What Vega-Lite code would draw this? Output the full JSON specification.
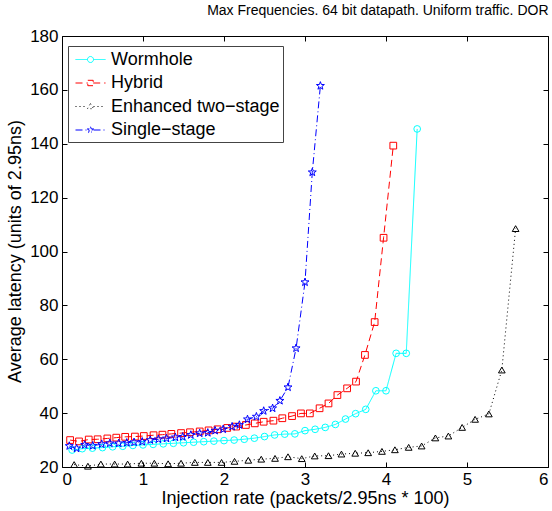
{
  "$schema": "https://vega.github.io/schema/vega-lite/v6.json",
  "width": 486,
  "height": 431,
  "autosize": {"type": "none"},
  "padding": {"left": 62, "top": 36, "right": 4, "bottom": 44},
  "background": "white",
  "config": {
    "font": "Liberation Sans",
    "view": {"stroke": "#000", "strokeWidth": 1},
    "axis": {"grid": false, "domain": false, "tickColor": "#000", "labelColor": "#000", "titleColor": "#000", "labelFont": "Liberation Sans", "titleFont": "Liberation Sans", "titleFontWeight": "normal", "labelFontSize": 17, "titleFontSize": 18, "tickSize": -5, "labelPadding": 9}
  },
  "title": {"text": "Max Frequencies. 64 bit datapath. Uniform traffic. DOR", "anchor": "end", "fontSize": 14, "fontWeight": "normal", "font": "Liberation Sans", "offset": 9, "color": "#000"},
  "datasets": {
    "d": [
      {"series": "Wormhole", "x": 0.125, "y": 26.3}, {"series": "Wormhole", "x": 0.25, "y": 26.8}, {"series": "Wormhole", "x": 0.375, "y": 27.0}, {"series": "Wormhole", "x": 0.5, "y": 27.2}, {"series": "Wormhole", "x": 0.625, "y": 27.5}, {"series": "Wormhole", "x": 0.75, "y": 27.7}, {"series": "Wormhole", "x": 0.875, "y": 28.0}, {"series": "Wormhole", "x": 1.0, "y": 28.2}, {"series": "Wormhole", "x": 1.125, "y": 28.4}, {"series": "Wormhole", "x": 1.25, "y": 28.6}, {"series": "Wormhole", "x": 1.375, "y": 28.8}, {"series": "Wormhole", "x": 1.5, "y": 29.0}, {"series": "Wormhole", "x": 1.625, "y": 29.2}, {"series": "Wormhole", "x": 1.75, "y": 29.4}, {"series": "Wormhole", "x": 1.875, "y": 29.6}, {"series": "Wormhole", "x": 2.0, "y": 29.8}, {"series": "Wormhole", "x": 2.125, "y": 30.0}, {"series": "Wormhole", "x": 2.25, "y": 30.3}, {"series": "Wormhole", "x": 2.375, "y": 30.7}, {"series": "Wormhole", "x": 2.5, "y": 31.3}, {"series": "Wormhole", "x": 2.625, "y": 31.9}, {"series": "Wormhole", "x": 2.75, "y": 32.2}, {"series": "Wormhole", "x": 2.875, "y": 32.3}, {"series": "Wormhole", "x": 3.0, "y": 33.5}, {"series": "Wormhole", "x": 3.125, "y": 34.0}, {"series": "Wormhole", "x": 3.25, "y": 34.7}, {"series": "Wormhole", "x": 3.375, "y": 35.8}, {"series": "Wormhole", "x": 3.5, "y": 37.8}, {"series": "Wormhole", "x": 3.625, "y": 39.8}, {"series": "Wormhole", "x": 3.75, "y": 41.4}, {"series": "Wormhole", "x": 3.875, "y": 48.3}, {"series": "Wormhole", "x": 4.0, "y": 48.3}, {"series": "Wormhole", "x": 4.125, "y": 62.2}, {"series": "Wormhole", "x": 4.25, "y": 62.2}, {"series": "Wormhole", "x": 4.385, "y": 145.5},
      {"series": "Hybrid", "x": 0.10, "y": 30.0}, {"series": "Hybrid", "x": 0.21, "y": 29.5}, {"series": "Hybrid", "x": 0.33, "y": 30.2}, {"series": "Hybrid", "x": 0.44, "y": 30.3}, {"series": "Hybrid", "x": 0.56, "y": 30.6}, {"series": "Hybrid", "x": 0.67, "y": 30.9}, {"series": "Hybrid", "x": 0.78, "y": 31.2}, {"series": "Hybrid", "x": 0.90, "y": 31.3}, {"series": "Hybrid", "x": 1.01, "y": 31.5}, {"series": "Hybrid", "x": 1.13, "y": 31.8}, {"series": "Hybrid", "x": 1.24, "y": 32.0}, {"series": "Hybrid", "x": 1.35, "y": 32.3}, {"series": "Hybrid", "x": 1.47, "y": 32.6}, {"series": "Hybrid", "x": 1.58, "y": 32.9}, {"series": "Hybrid", "x": 1.70, "y": 33.2}, {"series": "Hybrid", "x": 1.81, "y": 33.6}, {"series": "Hybrid", "x": 1.92, "y": 34.0}, {"series": "Hybrid", "x": 2.04, "y": 34.5}, {"series": "Hybrid", "x": 2.15, "y": 35.0}, {"series": "Hybrid", "x": 2.27, "y": 35.6}, {"series": "Hybrid", "x": 2.38, "y": 36.2}, {"series": "Hybrid", "x": 2.49, "y": 36.8}, {"series": "Hybrid", "x": 2.61, "y": 37.2}, {"series": "Hybrid", "x": 2.72, "y": 38.1}, {"series": "Hybrid", "x": 2.84, "y": 38.9}, {"series": "Hybrid", "x": 2.95, "y": 39.9}, {"series": "Hybrid", "x": 3.06, "y": 39.9}, {"series": "Hybrid", "x": 3.18, "y": 41.8}, {"series": "Hybrid", "x": 3.29, "y": 43.6}, {"series": "Hybrid", "x": 3.40, "y": 46.7}, {"series": "Hybrid", "x": 3.52, "y": 49.2}, {"series": "Hybrid", "x": 3.63, "y": 51.7}, {"series": "Hybrid", "x": 3.74, "y": 61.6}, {"series": "Hybrid", "x": 3.86, "y": 73.8}, {"series": "Hybrid", "x": 3.97, "y": 105.1}, {"series": "Hybrid", "x": 4.09, "y": 139.3},
      {"series": "Enhanced two−stage", "x": 0.15, "y": 20.9}, {"series": "Enhanced two−stage", "x": 0.32, "y": 20.3}, {"series": "Enhanced two−stage", "x": 0.48, "y": 21.1}, {"series": "Enhanced two−stage", "x": 0.65, "y": 21.1}, {"series": "Enhanced two−stage", "x": 0.81, "y": 21.1}, {"series": "Enhanced two−stage", "x": 0.98, "y": 21.4}, {"series": "Enhanced two−stage", "x": 1.14, "y": 21.4}, {"series": "Enhanced two−stage", "x": 1.31, "y": 21.2}, {"series": "Enhanced two−stage", "x": 1.47, "y": 21.4}, {"series": "Enhanced two−stage", "x": 1.64, "y": 21.7}, {"series": "Enhanced two−stage", "x": 1.80, "y": 21.7}, {"series": "Enhanced two−stage", "x": 1.97, "y": 21.7}, {"series": "Enhanced two−stage", "x": 2.13, "y": 22.1}, {"series": "Enhanced two−stage", "x": 2.30, "y": 22.5}, {"series": "Enhanced two−stage", "x": 2.46, "y": 22.9}, {"series": "Enhanced two−stage", "x": 2.63, "y": 23.2}, {"series": "Enhanced two−stage", "x": 2.79, "y": 23.8}, {"series": "Enhanced two−stage", "x": 2.96, "y": 23.1}, {"series": "Enhanced two−stage", "x": 3.12, "y": 24.1}, {"series": "Enhanced two−stage", "x": 3.29, "y": 24.2}, {"series": "Enhanced two−stage", "x": 3.45, "y": 24.8}, {"series": "Enhanced two−stage", "x": 3.62, "y": 25.1}, {"series": "Enhanced two−stage", "x": 3.78, "y": 25.3}, {"series": "Enhanced two−stage", "x": 3.95, "y": 25.8}, {"series": "Enhanced two−stage", "x": 4.11, "y": 26.4}, {"series": "Enhanced two−stage", "x": 4.28, "y": 27.3}, {"series": "Enhanced two−stage", "x": 4.44, "y": 27.8}, {"series": "Enhanced two−stage", "x": 4.61, "y": 30.8}, {"series": "Enhanced two−stage", "x": 4.77, "y": 31.5}, {"series": "Enhanced two−stage", "x": 4.94, "y": 34.7}, {"series": "Enhanced two−stage", "x": 5.10, "y": 37.7}, {"series": "Enhanced two−stage", "x": 5.27, "y": 39.7}, {"series": "Enhanced two−stage", "x": 5.43, "y": 56.0}, {"series": "Enhanced two−stage", "x": 5.60, "y": 108.5},
      {"series": "Single−stage", "x": 0.09, "y": 27.8}, {"series": "Single−stage", "x": 0.18, "y": 26.9}, {"series": "Single−stage", "x": 0.28, "y": 28.2}, {"series": "Single−stage", "x": 0.38, "y": 27.9}, {"series": "Single−stage", "x": 0.49, "y": 28.5}, {"series": "Single−stage", "x": 0.59, "y": 28.8}, {"series": "Single−stage", "x": 0.70, "y": 28.8}, {"series": "Single−stage", "x": 0.80, "y": 29.0}, {"series": "Single−stage", "x": 0.89, "y": 29.2}, {"series": "Single−stage", "x": 0.99, "y": 29.4}, {"series": "Single−stage", "x": 1.09, "y": 30.0}, {"series": "Single−stage", "x": 1.19, "y": 30.3}, {"series": "Single−stage", "x": 1.29, "y": 30.6}, {"series": "Single−stage", "x": 1.40, "y": 31.0}, {"series": "Single−stage", "x": 1.49, "y": 31.2}, {"series": "Single−stage", "x": 1.59, "y": 31.9}, {"series": "Single−stage", "x": 1.70, "y": 32.5}, {"series": "Single−stage", "x": 1.80, "y": 32.7}, {"series": "Single−stage", "x": 1.89, "y": 33.5}, {"series": "Single−stage", "x": 1.99, "y": 34.0}, {"series": "Single−stage", "x": 2.10, "y": 35.0}, {"series": "Single−stage", "x": 2.19, "y": 35.6}, {"series": "Single−stage", "x": 2.29, "y": 37.7}, {"series": "Single−stage", "x": 2.40, "y": 38.7}, {"series": "Single−stage", "x": 2.49, "y": 40.8}, {"series": "Single−stage", "x": 2.60, "y": 41.8}, {"series": "Single−stage", "x": 2.69, "y": 44.6}, {"series": "Single−stage", "x": 2.79, "y": 49.6}, {"series": "Single−stage", "x": 2.89, "y": 64.1}, {"series": "Single−stage", "x": 3.00, "y": 88.6}, {"series": "Single−stage", "x": 3.09, "y": 129.4}, {"series": "Single−stage", "x": 3.19, "y": 161.5}
    ]
  },
  "data": {"name": "d"},
  "layer": [
    {
      "mark": {"type": "line", "strokeWidth": 1, "clip": true},
      "encoding": {
        "x": {"field": "x", "type": "quantitative", "scale": {"domain": [0, 6], "nice": false}, "axis": {"values": [0, 1, 2, 3, 4, 5, 6], "title": "Injection rate (packets/2.95ns * 100)", "titleX": 243, "titleY": 31, "titleBaseline": "middle"}},
        "y": {"field": "y", "type": "quantitative", "scale": {"domain": [20, 180], "nice": false}, "axis": {"values": [20, 40, 60, 80, 100, 120, 140, 160, 180], "title": "Average latency (units of 2.95ns)", "titleX": -47, "titleY": 215, "titleBaseline": "middle", "titleAngle": -90}},
        "color": {"field": "series", "type": "nominal", "scale": {"domain": ["Wormhole", "Hybrid", "Enhanced two−stage", "Single−stage"], "range": ["#00ffff", "#ff0000", "#000000", "#0000ff"]}, "legend": null},
        "strokeDash": {"field": "series", "type": "nominal", "scale": {"domain": ["Wormhole", "Hybrid", "Enhanced two−stage", "Single−stage"], "range": [[1, 0], [7, 4], [1, 3], [7, 3, 1, 3]]}, "legend": null}
      }
    },
    {
      "mark": {"type": "point", "filled": false, "strokeWidth": 1, "size": 45, "opacity": 1},
      "encoding": {
        "x": {"field": "x", "type": "quantitative", "scale": {"domain": [0, 6], "nice": false}, "axis": {"orient": "top", "values": [0, 1, 2, 3, 4, 5, 6], "labels": false, "title": null}},
        "y": {"field": "y", "type": "quantitative", "scale": {"domain": [20, 180], "nice": false}, "axis": {"orient": "right", "values": [20, 40, 60, 80, 100, 120, 140, 160, 180], "labels": false, "title": null}},
        "color": {"field": "series", "type": "nominal", "scale": {"domain": ["Wormhole", "Hybrid", "Enhanced two−stage", "Single−stage"], "range": ["#00ffff", "#ff0000", "#000000", "#0000ff"]}, "legend": null},
        "shape": {"field": "series", "type": "nominal", "scale": {"domain": ["Wormhole", "Hybrid", "Enhanced two−stage", "Single−stage"], "range": ["circle", "square", "triangle-up", "M0,-1.25L0.294,-0.405L1.189,-0.386L0.475,0.155L0.735,1.011L0,0.5L-0.735,1.011L-0.475,0.155L-1.189,-0.386L-0.294,-0.405Z"]}, "legend": null}
      }
    },
    {
      "mark": {"type": "point", "filled": false, "strokeWidth": 1, "opacity": 0},
      "encoding": {
        "x": {"field": "x", "type": "quantitative", "scale": {"domain": [0, 6], "nice": false}, "axis": null},
        "y": {"field": "y", "type": "quantitative", "scale": {"domain": [20, 180], "nice": false}, "axis": null},
        "color": {"field": "series", "type": "nominal", "scale": {"domain": ["Wormhole", "Hybrid", "Enhanced two−stage", "Single−stage"], "range": ["#00ffff", "#ff0000", "#000000", "#0000ff"]}, "legend": {"title": null, "orient": "none", "legendX": 6, "legendY": 10, "symbolSize": 400, "symbolOpacity": 1, "symbolStrokeWidth": 1, "labelFontSize": 18, "labelFont": "Liberation Sans", "labelColor": "#000", "labelLimit": 400, "padding": 3, "rowPadding": 3.5, "symbolOffset": 9, "labelOffset": 10, "strokeColor": "#444", "fillColor": "white"}},
        "shape": {"field": "series", "type": "nominal", "scale": {"domain": ["Wormhole", "Hybrid", "Enhanced two−stage", "Single−stage"], "range": ["M-1.5,0L-0.3,0M0.3,0L1.5,0M-0.3,0A0.3,0.3 0 1,0 0.3,0A0.3,0.3 0 1,0 -0.3,0Z", "M-1.5,0L-0.27,0M0.27,0L1.5,0M-0.27,-0.27L0.27,-0.27L0.27,0.27L-0.27,0.27Z", "M-1.5,0L-0.3,0M0.3,0L1.5,0M0,-0.3L0.3,0.22L-0.3,0.22Z", "M-1.5,0L-0.3,0M0.3,0L1.5,0M0,-0.33L0.078,-0.107L0.314,-0.102L0.125,0.041L0.194,0.267L0,0.132L-0.194,0.267L-0.125,0.041L-0.314,-0.102L-0.078,-0.107Z"]}, "legend": {"title": null, "orient": "none", "legendX": 6, "legendY": 10, "symbolSize": 400, "symbolOpacity": 1, "symbolStrokeWidth": 1, "labelFontSize": 18, "labelFont": "Liberation Sans", "labelColor": "#000", "labelLimit": 400, "padding": 3, "rowPadding": 3.5, "symbolOffset": 9, "labelOffset": 10, "strokeColor": "#444", "fillColor": "white"}},
        "strokeDash": {"field": "series", "type": "nominal", "scale": {"domain": ["Wormhole", "Hybrid", "Enhanced two−stage", "Single−stage"], "range": [[1, 0], [7, 4], [1, 3], [7, 3, 1, 3]]}, "legend": {"title": null, "orient": "none", "legendX": 6, "legendY": 10, "symbolSize": 400, "symbolOpacity": 1, "symbolStrokeWidth": 1, "labelFontSize": 18, "labelFont": "Liberation Sans", "labelColor": "#000", "labelLimit": 400, "padding": 3, "rowPadding": 3.5, "symbolOffset": 9, "labelOffset": 10, "strokeColor": "#444", "fillColor": "white"}}
      }
    }
  ],
  "resolve": {"scale": {"color": "independent", "shape": "independent", "strokeDash": "independent"}, "axis": {"x": "independent", "y": "independent"}}
}
